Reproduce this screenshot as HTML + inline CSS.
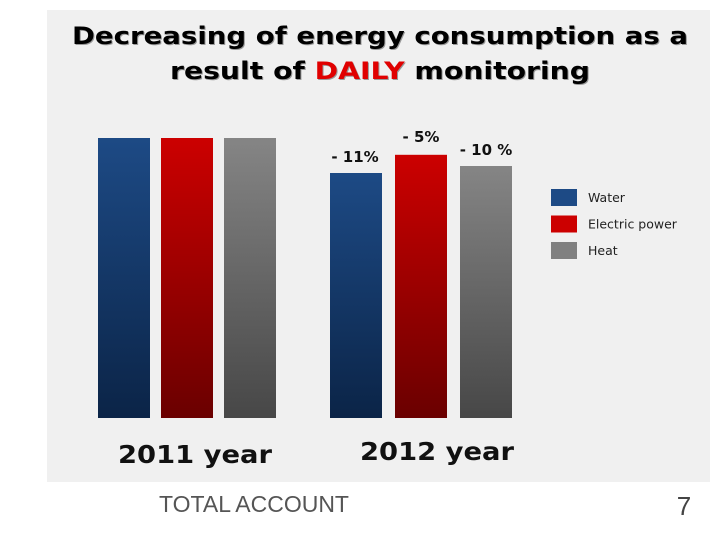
<!DOCTYPE html>
<html><head><meta charset="utf-8"><style>
body{margin:0;background:#fff;width:720px;height:540px;overflow:hidden}
svg{display:block}
</style></head><body>
<svg id="chart" width="720" height="540" xmlns="http://www.w3.org/2000/svg">
<defs>
<linearGradient id="gBlue" x1="0" y1="0" x2="0" y2="1"><stop offset="0" stop-color="#1d4a85"/><stop offset="1" stop-color="#0b2447"/></linearGradient>
<linearGradient id="gRed" x1="0" y1="0" x2="0" y2="1"><stop offset="0" stop-color="#cc0000"/><stop offset="1" stop-color="#6a0000"/></linearGradient>
<linearGradient id="gGrey" x1="0" y1="0" x2="0" y2="1"><stop offset="0" stop-color="#858585"/><stop offset="1" stop-color="#474747"/></linearGradient>
</defs>
<rect x="47" y="10" width="663" height="472" fill="#f0f0f0"/>
<g font-family="'DejaVu Sans',Verdana,sans-serif" font-weight="bold" font-size="24" text-anchor="middle">
<text x="381" y="45" fill="#999" textLength="616" lengthAdjust="spacingAndGlyphs">Decreasing of energy consumption as a</text>
<text x="380" y="44" fill="#000" textLength="616" lengthAdjust="spacingAndGlyphs">Decreasing of energy consumption as a</text>
<text x="381" y="80" fill="#999" textLength="420" lengthAdjust="spacingAndGlyphs">result of DAILY monitoring</text>
<text x="380" y="79" fill="#000" textLength="420" lengthAdjust="spacingAndGlyphs">result of <tspan fill="#e00000">DAILY</tspan> monitoring</text>
</g>
<g id="bars"></g>
<g id="legend" font-family="'DejaVu Sans',Verdana,sans-serif" font-size="12.5" fill="#222"></g>
<text x="195" y="463" text-anchor="middle" font-family="'DejaVu Sans',Verdana,sans-serif" font-weight="bold" font-size="25" fill="#111" textLength="154" lengthAdjust="spacingAndGlyphs">2011 year</text>
<text x="437" y="460" text-anchor="middle" font-family="'DejaVu Sans',Verdana,sans-serif" font-weight="bold" font-size="25" fill="#111" textLength="154" lengthAdjust="spacingAndGlyphs">2012 year</text>
<text x="254" y="512" text-anchor="middle" font-family="'Liberation Sans',sans-serif" font-size="23" fill="#555">TOTAL ACCOUNT</text>
<text x="684" y="515" text-anchor="middle" font-family="'Liberation Sans',sans-serif" font-size="26" fill="#444">7</text>
</svg>
<script>
const years = ["2011", "2012"];
const series = ["Water", "Electric power", "Heat"];
const water = [100, 87.5];
const electric = [100, 94];
const heat = [100, 90];
const changeLabels = ["- 11%", "- 5%", "- 10 %"];

const NS = "http://www.w3.org/2000/svg";
const baseY = 418, topY = 138;
const yScale = v => baseY - (v / 100) * (baseY - topY);
const groupX = [98, 330];
const barW = 52, step = [0, 63, 126], step2 = [0, 65, 130];
const fills = ["url(#gBlue)", "url(#gRed)", "url(#gGrey)"];
const legendFills = ["#1d4a85", "#cc0000", "#808080"];
const allVals = [water, electric, heat];
const bars = document.getElementById("bars");
years.forEach((yr, gi) => {
  allVals.forEach((arr, si) => {
    const x = groupX[gi] + (gi === 0 ? step[si] : step2[si]);
    const y = yScale(arr[gi]);
    const r = document.createElementNS(NS, "rect");
    r.setAttribute("x", x); r.setAttribute("y", y);
    r.setAttribute("width", barW); r.setAttribute("height", baseY - y);
    r.setAttribute("fill", fills[si]);
    
    
    bars.appendChild(r);
    if (gi === 1) {
      const t = document.createElementNS(NS, "text");
      t.setAttribute("x", x + barW / 2 + (si === 0 ? -1 : 0));
      t.setAttribute("y", y - 11 - (si === 1 ? 2 : 0));
      t.setAttribute("text-anchor", "middle");
      t.setAttribute("font-family", "'DejaVu Sans',Verdana,sans-serif");
      t.setAttribute("font-weight", "bold");
      t.setAttribute("font-size", "15");
      t.setAttribute("fill", "#111");
      t.textContent = changeLabels[si];
      
      
      bars.appendChild(t);
    }
  });
});
const legend = document.getElementById("legend");
series.forEach((s, i) => {
  const y = 189 + i * 26.5;
  const r = document.createElementNS(NS, "rect");
  r.setAttribute("x", 551); r.setAttribute("y", y);
  r.setAttribute("width", 26); r.setAttribute("height", 17);
  r.setAttribute("fill", legendFills[i]);
  
  
  legend.appendChild(r);
  const t = document.createElementNS(NS, "text");
  t.setAttribute("x", 588); t.setAttribute("y", y + 13);
  t.textContent = s;
  
  
  legend.appendChild(t);
});
</script>
</body></html>
